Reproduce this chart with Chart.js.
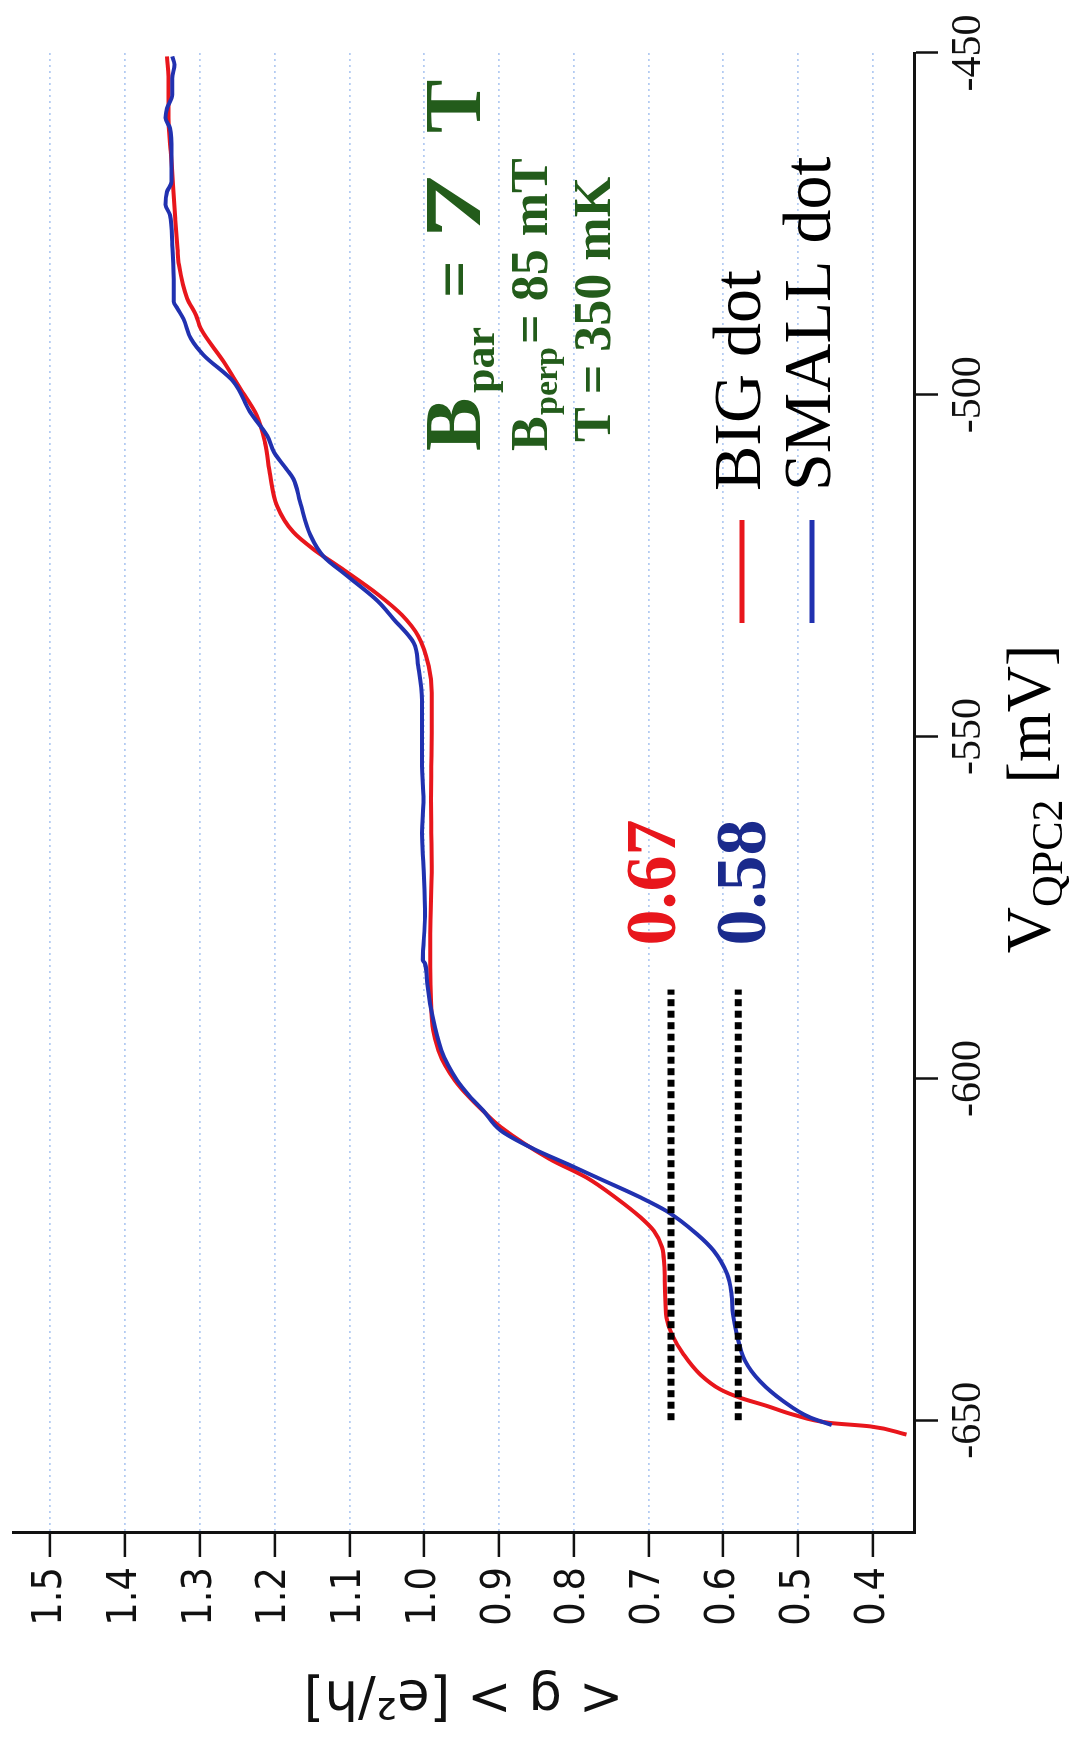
<!DOCTYPE html>
<html>
<head>
<meta charset="utf-8">
<script src="https://cdn.jsdelivr.net/npm/chart.js@4.4.1/dist/chart.umd.min.js"></script>
<style>
  html, body { margin: 0; padding: 0; background: #fff; overflow: hidden; }
  /* the figure is laid out landscape and turned a quarter turn to stand upright */
  #wrap {
    position: absolute; left: 0; top: 0;
    width: 1744px; height: 1079px;
    transform-origin: 0 0;
    transform: translate(0, 1744px) rotate(-90deg);
    background: #fff;
  }
</style>
</head>
<body>
<div id="wrap"><canvas id="c" width="1744" height="1079"></canvas></div>
<script>
// QPC2 gate voltage (mV) and average conductance <g> (e^2/h)
const bigDotV = [-652.1, -650.9, -650.4, -649.2, -647.9, -646.7, -645.5, -643.3, -640.4, -637.4,
  -635.0, -631.1, -627.2, -624.7, -622.3, -620.3, -617.6, -614.5, -611.8, -607.1,
  -604.7, -602.5, -600.3, -598.1, -595.9, -593.0, -588.6, -583.7, -578.8, -569.0,
  -559.2, -549.5, -543.6, -539.7, -535.3, -532.2, -529.2, -525.3, -522.6, -520.1,
  -516.2, -511.8, -507.0, -503.0, -499.1, -495.2, -490.3, -488.4, -485.9, -481.0,
  -478.6, -474.2, -469.3, -464.4, -459.5, -454.6, -450.5];
const bigDotG = [0.355, 0.404, 0.457, 0.506, 0.542, 0.578, 0.604, 0.631, 0.653, 0.669,
  0.676, 0.678, 0.679, 0.682, 0.693, 0.711, 0.742, 0.783, 0.832, 0.898,
  0.922, 0.942, 0.959, 0.972, 0.981, 0.988, 0.991, 0.992, 0.992, 0.990,
  0.991, 0.990, 0.990, 0.994, 1.008, 1.030, 1.062, 1.112, 1.148, 1.175,
  1.197, 1.206, 1.213, 1.224, 1.246, 1.268, 1.299, 1.305, 1.317, 1.328,
  1.330, 1.333, 1.336, 1.339, 1.342, 1.342, 1.344];

const smallDotV = [-650.7, -649.6, -647.2, -644.3, -641.3, -637.4, -634.5, -631.6, -628.6, -625.2,
  -622.8, -619.4, -617.4, -614.7, -612.5, -610.3, -607.6, -604.7, -602.5, -600.3,
  -598.1, -595.9, -590.9, -586.1, -583.2, -582.7, -576.3, -569.0, -564.1, -559.2,
  -554.3, -544.6, -539.7, -536.3, -532.8, -530.2, -526.5, -523.6, -520.6, -515.7,
  -512.3, -510.9, -508.4, -506.0, -502.5, -498.1, -494.2, -491.8, -488.9, -487.4,
  -486.4, -484.0, -478.1, -473.7, -472.2, -470.3, -468.8, -464.4, -461.0, -459.5,
  -458.1, -456.1, -453.7, -451.7, -450.5];
const smallDotG = [0.455, 0.484, 0.520, 0.551, 0.571, 0.582, 0.587, 0.589, 0.595, 0.613,
  0.635, 0.676, 0.711, 0.765, 0.809, 0.854, 0.898, 0.921, 0.940, 0.956,
  0.968, 0.977, 0.989, 0.996, 0.999, 1.002, 0.999, 1.001, 1.003, 1.001,
  1.003, 1.003, 1.008, 1.014, 1.041, 1.062, 1.103, 1.135, 1.152, 1.166,
  1.175, 1.184, 1.201, 1.210, 1.233, 1.255, 1.295, 1.312, 1.322, 1.330,
  1.335, 1.335, 1.337, 1.340, 1.346, 1.344, 1.338, 1.338, 1.340, 1.346,
  1.344, 1.337, 1.337, 1.334, 1.337];

const seriesNames = ['BIG dot', 'SMALL dot'];

// 0.7-like plateau levels and the gate range they are marked over
const plateauLevels = [0.67, 0.58];
const plateauSpan = [-650, -587];

const xTicks = [-650, -600, -550, -500, -450];
const xTickLabels = ['-650', '-600', '-550', '-500', '-450'];
const yTicks = [0.4, 0.5, 0.6, 0.7, 0.8, 0.9, 1.0, 1.1, 1.2, 1.3, 1.4, 1.5];
const yTickLabels = ['0.4', '0.5', '0.6', '0.7', '0.8', '0.9', '1.0', '1.1', '1.2', '1.3', '1.4', '1.5'];

const RED = '#e8161c';
const BLUE = '#2131b0';
const GREEN = '#235c1b';
const SERIF = '"Liberation Serif", "Times New Roman", serif';

const toPoints = (xs, ys) => xs.map((x, i) => ({ x: x, y: ys[i] }));

const datasets = [
  {
    label: seriesNames[0], data: toPoints(bigDotV, bigDotG),
    borderColor: RED, borderWidth: 4, pointRadius: 0,
    cubicInterpolationMode: 'monotone', order: 3
  },
  {
    label: seriesNames[1], data: toPoints(smallDotV, smallDotG),
    borderColor: BLUE, borderWidth: 4, pointRadius: 0,
    cubicInterpolationMode: 'monotone', order: 2
  }
];
plateauLevels.forEach(level => {
  datasets.push({
    data: plateauSpan.map(x => ({ x: x, y: level })),
    borderColor: '#000', borderWidth: 7, borderDash: [7, 4.5],
    pointRadius: 0, order: 1, isGuide: true
  });
});

// labels, parameter block, legend and the subscripted axis title
const annotate = {
  id: 'annotate',
  afterDraw(chart) {
    const ctx = chart.ctx;
    const a = chart.chartArea;
    const xs = chart.scales.x, ys = chart.scales.y;
    ctx.save();
    ctx.textBaseline = 'alphabetic';
    ctx.textAlign = 'left';

    // plateau values next to the dotted guides
    const labelColors = [RED, '#1a2a8c'];
    const labelDrop = [4, 27];
    ctx.font = 'bold 72px ' + SERIF;
    plateauLevels.forEach((level, i) => {
      ctx.fillStyle = labelColors[i];
      ctx.fillText(level.toFixed(2), xs.getPixelForValue(plateauSpan[1]) + 44,
        ys.getPixelForValue(level) + labelDrop[i]);
    });

    // field and temperature block
    const gx = a.right - 398;
    ctx.fillStyle = GREEN;
    const b1 = a.top + 467;
    ctx.font = 'bold 80px ' + SERIF;
    ctx.fillText('B', gx, b1);
    ctx.font = 'bold 44px ' + SERIF;
    ctx.fillText('par', gx + 58, b1 + 14);
    ctx.font = 'bold 66px ' + SERIF;
    ctx.fillText('=', gx + 153, b1 - 4);
    ctx.font = 'bold 80px ' + SERIF;
    ctx.save();
    ctx.translate(gx + 212, b1);
    ctx.scale(1.6, 1);
    ctx.fillText('7', 0, 0);
    ctx.restore();
    ctx.fillText('T', gx + 318, b1);

    const b2 = a.top + 534;
    ctx.font = 'bold 52px ' + SERIF;
    ctx.fillText('B', gx, b2);
    ctx.font = 'bold 34px ' + SERIF;
    ctx.fillText('perp', gx + 36, b2 + 10);
    ctx.font = 'bold 52px ' + SERIF;
    ctx.fillText('= 85 mT', gx + 107, b2);

    const b3 = a.top + 597;
    ctx.fillText('T = 350 mK', gx + 9, b3);

    // legend
    const named = chart.data.datasets.filter(d => !d.isGuide);
    ctx.font = '68px ' + SERIF;
    named.forEach((d, i) => {
      const mid = a.top + 729 + i * 70;
      ctx.strokeStyle = d.borderColor;
      ctx.lineWidth = 5;
      ctx.beginPath();
      ctx.moveTo(a.right - 570, mid);
      ctx.lineTo(a.right - 467, mid);
      ctx.stroke();
      ctx.fillStyle = '#000';
      ctx.fillText(d.label, a.right - 438, mid + 18);
    });

    // x axis title with subscript
    const main = '64px ' + SERIF, sub = '44px ' + SERIF;
    ctx.font = main; const wV = ctx.measureText('V').width;
    const wRest = ctx.measureText(' [mV]').width;
    ctx.font = sub; const wSub = ctx.measureText('QPC2').width;
    let tx = (a.left + a.right) / 2 - (wV + wSub + wRest) / 2 - 6;
    const tb = a.bottom + 136;
    ctx.fillStyle = '#000';
    ctx.font = main; ctx.fillText('V', tx, tb); tx += wV;
    ctx.font = sub; ctx.fillText('QPC2', tx, tb + 12); tx += wSub;
    ctx.font = main; ctx.fillText(' [mV]', tx, tb);
    ctx.restore();
  }
};

new Chart(document.getElementById('c'), {
  type: 'line',
  data: { datasets: datasets },
  plugins: [annotate],
  options: {
    responsive: false,
    animation: false,
    devicePixelRatio: 1,
    layout: { padding: { top: 13, right: 53, bottom: 0, left: 0 } },
    plugins: { legend: { display: false }, tooltip: { enabled: false } },
    scales: {
      x: {
        type: 'linear', min: -666.5, max: -450,
        afterBuildTicks: s => { s.ticks = xTicks.map(v => ({ value: v })); },
        afterFit: s => { s.height = 165; s.paddingLeft = 0; s.paddingRight = 0; },
        ticks: {
          font: { family: SERIF, size: 42 }, color: '#111', padding: 6,
          maxRotation: 0, autoSkip: false,
          callback: (v, i) => xTickLabels[i]
        },
        grid: { drawOnChartArea: false, drawTicks: true, tickLength: 24, tickWidth: 2.5, tickColor: '#111' },
        border: { display: true, color: '#111', width: 3 }
      },
      y: {
        type: 'linear', min: 0.345, max: 1.55,
        afterBuildTicks: s => { s.ticks = yTicks.map(v => ({ value: v })); },
        afterFit: s => { s.width = 211; s.paddingTop = 0; s.paddingBottom = 0; },
        ticks: {
          font: { family: '"DejaVu Sans Condensed", "DejaVu Sans"', size: 41 }, color: '#111', padding: 10,
          autoSkip: false,
          callback: (v, i) => yTickLabels[i]
        },
        grid: { color: '#b3cbf2', lineWidth: 1.8, tickLength: 24, tickWidth: 2.5, tickColor: '#111', tickBorderDash: [] },
        border: { display: true, color: '#111', width: 3, dash: [2, 4] },
        title: {
          display: true, text: '< g > [e²/h]', color: '#111',
          font: { family: '"DejaVu Sans"', size: 53 },
          padding: { top: 17, bottom: 0 }
        }
      }
    }
  }
});
</script>
</body>
</html>
